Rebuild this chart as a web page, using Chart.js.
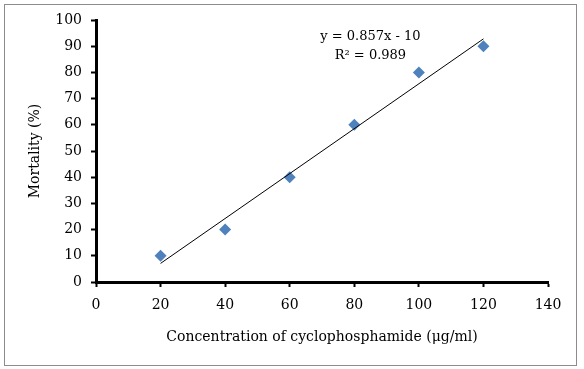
<!DOCTYPE html>
<html>
<head>
<meta charset="utf-8">
<script src="https://cdn.jsdelivr.net/npm/chart.js@4"></script>
<style>
  html, body { margin: 0; padding: 0; background: #fff; }
  #wrap { width: 584px; height: 369px; }
</style>
</head>
<body>
<div id="wrap"><canvas id="myChart" width="584" height="369"></canvas></div>
<script>
// données
const concentrations = [20, 40, 60, 80, 100, 120];
const mortality = [10, 20, 40, 60, 80, 90];
const trendX = [20, 120];
const trendY = [7.1, 92.8];
const equationLines = ["y = 0.857x - 10", "R² = 0.989"];
const xTitle = "Concentration of cyclophosphamide (μg/ml)";
const yTitle = "Mortality (%)";

const fontFamily = "'DejaVu Serif', serif";

// cadre gris + équation
const framePlugin = {
  id: "frame",
  beforeDraw(chart) {
    const ctx = chart.ctx;
    ctx.save();
    ctx.fillStyle = "#fff";
    ctx.fillRect(0, 0, chart.width, chart.height);
    ctx.strokeStyle = "#8c8c8c";
    ctx.lineWidth = 1;
    ctx.strokeRect(4.5, 4.5, 572, 361);
    ctx.restore();
  },
  afterDraw(chart) {
    const ctx = chart.ctx;
    const xs = chart.scales.x, ys = chart.scales.y;
    const cx = xs.getPixelForValue(85);
    const cy = ys.getPixelForValue(93.6);
    ctx.save();
    ctx.fillStyle = "#000";
    ctx.font = "13px " + fontFamily;
    ctx.textAlign = "center";
    ctx.textBaseline = "middle";
    ctx.fillText(equationLines[0], cx, cy);
    ctx.fillText(equationLines[1], cx, cy + 19);
    ctx.restore();
  }
};

const points = concentrations.map((c, i) => ({ x: c, y: mortality[i] }));
const trend = trendX.map((c, i) => ({ x: c, y: trendY[i] }));

new Chart(document.getElementById("myChart"), {
  type: "scatter",
  data: {
    datasets: [
      {
        type: "line",
        data: trend,
        borderColor: "#000",
        borderWidth: 1,
        pointRadius: 0,
        fill: false
      },
      {
        data: points,
        pointStyle: "rectRot",
        pointRadius: 6,
        pointHoverRadius: 6,
        backgroundColor: "#4f81bd",
        borderColor: "#4f81bd",
        borderWidth: 0
      }
    ]
  },
  options: {
    responsive: false,
    animation: false,
    events: [],
    layout: { padding: { left: 10, top: 20, right: 36, bottom: 10 } },
    plugins: { legend: { display: false }, tooltip: { enabled: false } },
    scales: {
      x: {
        type: "linear",
        min: 0, max: 140,
        ticks: { stepSize: 20, color: "#000", padding: 10, font: { family: fontFamily, size: 14 } },
        grid: { drawOnChartArea: false, drawTicks: true, tickLength: 5, tickColor: "#000", tickWidth: 2 },
        border: { display: true, color: "#000", width: 3 },
        title: { display: true, text: xTitle, color: "#000", padding: { top: 0, bottom: 13 }, font: { family: fontFamily, size: 14 } },
        afterFit(scale) { scale.height = 77; }
      },
      y: {
        min: 0, max: 100,
        ticks: { stepSize: 10, color: "#000", padding: 9, font: { family: fontFamily, size: 14 } },
        grid: { drawOnChartArea: false, drawTicks: true, tickLength: 5, tickColor: "#000", tickWidth: 2 },
        border: { display: true, color: "#000", width: 3 },
        title: { display: true, text: yTitle, color: "#000", padding: { top: 17, bottom: 0 }, font: { family: fontFamily, size: 14 } },
        afterFit(scale) { scale.width = 86; }
      }
    }
  },
  plugins: [framePlugin]
});
</script>
</body>
</html>
